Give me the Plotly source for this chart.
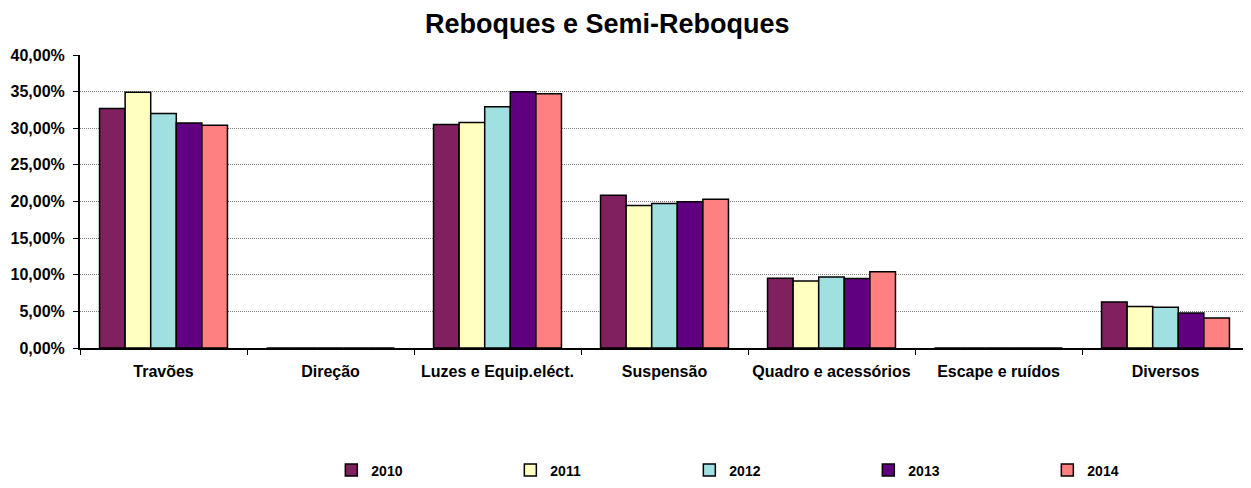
import plotly.graph_objects as go

# categories and yearly shares (fraction of total)
categories = [
    "Travões",
    "Direção",
    "Luzes e Equip.eléct.",
    "Suspensão",
    "Quadro e acessórios",
    "Escape e ruídos",
    "Diversos",
]
years = ["2010", "2011", "2012", "2013", "2014"]

v2010 = [0.327, 0.0, 0.305, 0.2085, 0.0951, 0.0, 0.0627]
v2011 = [0.349, 0.0, 0.308, 0.1946, 0.0915, 0.0, 0.0568]
v2012 = [0.320, 0.0, 0.3295, 0.1973, 0.0969, 0.0, 0.0555]
v2013 = [0.307, 0.0, 0.350, 0.1996, 0.0950, 0.0, 0.0477]
v2014 = [0.304, 0.0, 0.347, 0.2030, 0.1040, 0.0, 0.0409]

series = [v2010, v2011, v2012, v2013, v2014]
colors = ["#80205f", "#ffffc0", "#a0e0e0", "#600080", "#ff8080"]

fig = go.Figure()

for name, vals, col in zip(years, series, colors):
    fig.add_trace(
        go.Bar(
            x=categories,
            y=vals,
            name=name,
            marker_color=col,
            marker_line_color="black",
            marker_line_width=1.5,
        )
    )

# page body has an 8px margin, so margins are shifted to compensate
fig.update_layout(
    width=1251,
    height=488,
    margin=dict(l=72, r=10, t=47, b=142),
    plot_bgcolor="white",
    paper_bgcolor="white",
    font=dict(family="Arial", color="black", size=13),
    separators=",.",
    barmode="group",
    bargap=0.234,
    bargroupgap=0,
    title=dict(
        text="<b>Reboques e Semi-Reboques</b>",
        x=0.479,
        xanchor="center",
        xref="container",
        y=0.969,
        yanchor="middle",
        yref="container",
        font=dict(size=27, color="black"),
    ),
    legend=dict(
        orientation="h",
        x=0.215,
        xanchor="left",
        y=-0.418,
        yanchor="middle",
        entrywidth=134,
        font=dict(size=14, color="black", weight="bold"),
        itemwidth=30,
    ),
)

fig.update_xaxes(
    automargin=False,
    tickangle=0,
    showline=True,
    linecolor="black",
    linewidth=2,
    ticks="outside",
    tickson="boundaries",
    ticklen=5,
    tickcolor="black",
    ticklabelstandoff=8,
    tickfont=dict(size=16, weight="bold"),
    showgrid=False,
)

fig.update_yaxes(
    automargin=False,
    range=[0, 0.40],
    dtick=0.05,
    tickformat=".2%",
    showline=True,
    linecolor="black",
    linewidth=2,
    ticks="outside",
    ticklen=5,
    tickcolor="black",
    ticklabelstandoff=5,
    tickfont=dict(size=16, weight="bold"),
    showgrid=True,
    gridcolor="#808080",
    griddash="1px,1px",
    gridwidth=1,
    zeroline=False,
)

fig.write_html("out.html")
